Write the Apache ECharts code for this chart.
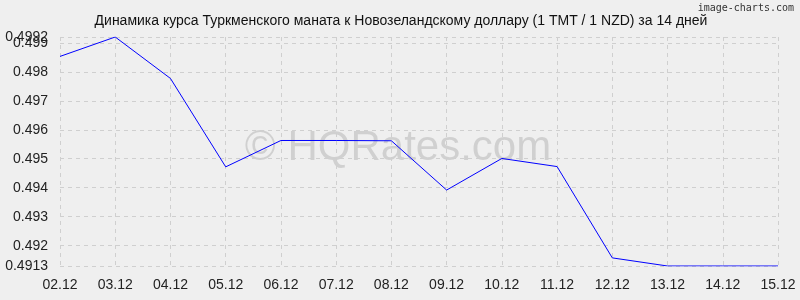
<!DOCTYPE html>
<html><head><meta charset="utf-8">
<script src="https://cdn.jsdelivr.net/npm/echarts@6/dist/echarts.min.js"></script>
<style>html,body{margin:0;padding:0;background:#efefef;}#c{width:800px;height:300px;}</style>
</head><body><div id="c"></div>
<script>
const categories = ['02.12','03.12','04.12','05.12','06.12','07.12','08.12','09.12','10.12','11.12','12.12','13.12','14.12','15.12'];
const rates = [0.49853,0.4992,0.49777,0.49472,0.49563,0.49563,0.49562,0.49392,0.49501,0.49473,0.49158,0.4913,0.4913,0.4913];
const yTicks = [0.4913,0.492,0.493,0.494,0.495,0.496,0.497,0.498,0.499];
const yTopTick = [0.4992];
const yMin = 0.4913, yMax = 0.4992;
const titleText = 'Динамика курса Туркменского маната к Новозеландскому доллару (1 TMT / 1 NZD) за 14 дней';

const labelStyle = {fontFamily:'Liberation Sans',fontSize:14,color:'#222',margin:12,formatter:v=>String(+v.toFixed(4))};
const gridLine = {show:true,lineStyle:{color:'#cfcfcf',type:[4,4],width:1}};
const chart = echarts.init(document.getElementById('c'), null, {renderer:'canvas'});
chart.setOption({
  backgroundColor:'#efefef',
  animation:false,
  title:{text:titleText,left:396,top:9,textAlign:'center',textStyle:{fontFamily:'Liberation Sans',fontSize:14,fontWeight:'normal',color:'#111'}},
  graphic:[
    {type:'text',right:6,top:3,style:{text:'image-charts.com',fontFamily:'DejaVu Sans Mono',fontSize:10,fill:'#333'}},
    {type:'text',x:398,y:148,z:-1,style:{text:'© HQRates.com',fontFamily:'Liberation Sans',fontSize:42,fill:'rgba(0,0,0,0.13)',align:'center',verticalAlign:'middle'}}
  ],
  grid:{left:60,right:22,top:37,bottom:34},
  xAxis:{type:'category',data:categories,boundaryGap:false,
    axisLine:{show:false},axisTick:{show:false},
    axisLabel:{fontFamily:'Liberation Sans',fontSize:14,color:'#222',margin:12},
    splitLine:gridLine},
  yAxis:[
    {type:'value',min:yMin,max:yMax,position:'left',
      axisLine:{show:false},axisTick:{show:false,customValues:yTicks},
      axisLabel:Object.assign({customValues:yTicks,showMinLabel:true,showMaxLabel:true},labelStyle),
      splitLine:gridLine},
    {type:'value',min:yMin,max:yMax,position:'left',offset:0,
      axisLine:{show:false},axisTick:{show:false,customValues:yTopTick},
      axisLabel:Object.assign({customValues:yTopTick,showMaxLabel:true},labelStyle),
      splitLine:gridLine}
  ],
  series:[{type:'line',data:rates,symbol:'none',lineStyle:{color:'#0000ff',width:1}}]
});
</script></body></html>
